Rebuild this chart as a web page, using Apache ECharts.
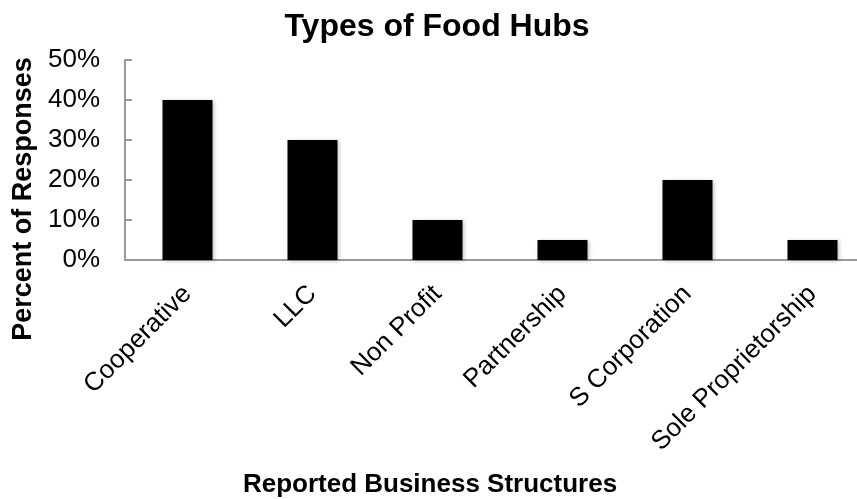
<!DOCTYPE html>
<html><head><meta charset="utf-8">
<script src="https://cdn.jsdelivr.net/npm/echarts@6/dist/echarts.min.js"></script>
<style>html,body{margin:0;padding:0;background:#fff}#c{width:857px;height:499px}</style>
</head><body><div id="c"></div>
<script>
const categories = ["Cooperative", "LLC", "Non Profit", "Partnership", "S Corporation", "Sole Proprietorship"];
const percentValues = [40, 30, 10, 5, 20, 5];
const yTicks = [0, 10, 20, 30, 40, 50];

const chart = echarts.init(document.getElementById('c'));
const font = 'Liberation Sans, Arial, sans-serif';
chart.setOption({
  animation: false,
  title: {
    text: 'Types of Food Hubs', left: 432, top: 6, textAlign: 'center',
    textStyle: { fontFamily: font, fontSize: 32, fontWeight: 'bold', color: '#000' }
  },
  grid: { left: 125, right: -18, top: 60, bottom: 239, containLabel: false, outerBoundsMode: 'none' },
  xAxis: {
    type: 'category', data: categories,
    name: 'Reported Business Structures', nameLocation: 'middle', nameGap: 212,
    nameTextStyle: { fontFamily: font, fontSize: 26, fontWeight: 'bold', color: '#000', padding: [0, 0, 0, -140] },
    axisLine: { lineStyle: { color: '#999', width: 2 } },
    axisTick: { inside: true, length: 7, lineStyle: { color: '#999', width: 2 } },
    axisLabel: { rotate: 45, fontFamily: font, fontSize: 26, color: '#000', margin: 30, interval: 0 }
  },
  yAxis: {
    type: 'value', min: 0, max: 50, interval: 10,
    name: 'Percent of Responses', nameLocation: 'middle', nameGap: 88, nameRotate: 90,
    nameTextStyle: { fontFamily: font, fontSize: 27, fontWeight: 'bold', color: '#000', padding: [0, 0, 0, -78] },
    axisLine: { show: true, lineStyle: { color: '#999', width: 2 } },
    axisTick: { show: true, inside: true, length: 7, lineStyle: { color: '#999', width: 2 } },
    splitLine: { show: false },
    axisLabel: { fontFamily: font, fontSize: 26, color: '#000', margin: 25, formatter: v => yTicks.includes(v) ? v + '%' : '' }
  },
  series: [{
    type: 'bar', data: percentValues, barWidth: '40%',
    itemStyle: { color: '#000', shadowColor: 'rgba(0,0,0,0.25)', shadowBlur: 4, shadowOffsetX: 1, shadowOffsetY: 1 }
  }]
});
</script></body></html>
